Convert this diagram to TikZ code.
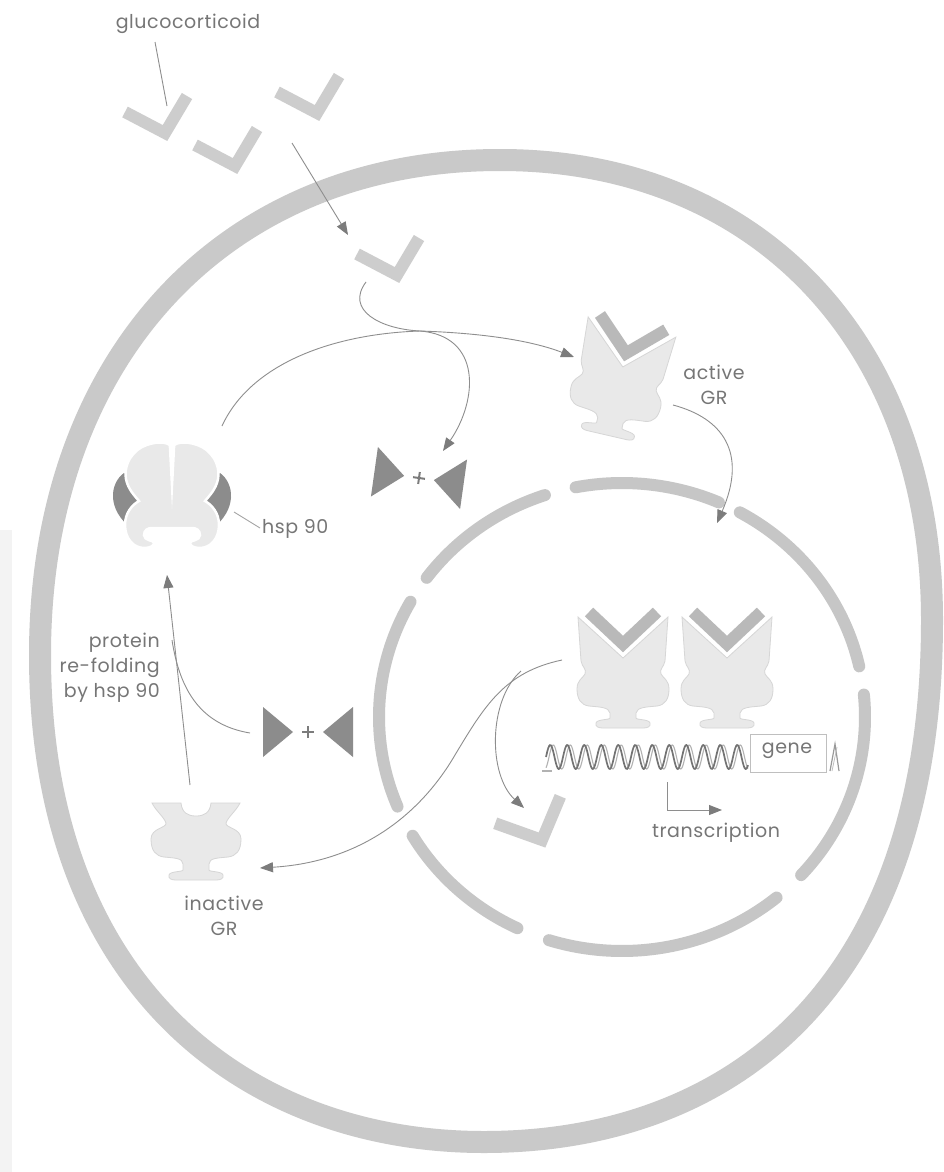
\documentclass[tikz,border=0pt]{standalone}
\usepackage{fontspec}
\setmainfont{Poppins}
\newfontfamily\labelfont{Poppins}[LetterSpace=3]
\usetikzlibrary{arrows.meta}

\definecolor{cellring}{HTML}{C9C9C9}
\definecolor{nucring}{HTML}{C6C6C6}
\definecolor{hormone}{HTML}{CDCDCD}
\definecolor{boundhormone}{HTML}{B9B9B9}
\definecolor{protfill}{HTML}{E9E9E9}
\definecolor{protedge}{HTML}{D6D6D6}
\definecolor{darkpart}{HTML}{8C8C8C}
\definecolor{wire}{HTML}{8E8E8E}
\definecolor{tip}{HTML}{7C7C7C}
\definecolor{txt}{HTML}{767676}
\definecolor{scanedge}{HTML}{F3F3F3}

\tikzset{
  lbl/.style={text=txt, font=\labelfont\fontsize{19}{25}\selectfont, inner sep=0pt},
  conn/.style={draw=wire, line width=0.9},
  arr/.style={conn, -{Triangle[length=13, width=10, fill=tip, color=tip]}},
  ringseg/.style={draw=nucring, line width=12, line cap=round},
  % free steroid molecule
  hormonepic/.pic={
    \draw[hormone, line width=12, line cap=butt, line join=miter]
      (-40,-21) -- (0,0) -- (22,-37);
  },
  % receptor with bound hormone
  activegr/.pic={
    \fill[protfill, draw=protedge, line width=0.8]
      (-45,0) -- (0,41) -- (45,0) -- (42,44)
      .. controls (41,50) and (36,52) .. (38,57)
      .. controls (40,61) and (46,63) .. (46,72)
      .. controls (46,82) and (42,88) .. (34,89)
      .. controls (24,90) and (14,90) .. (13,96)
      -- (13,101)
      .. controls (13,103) and (26,102) .. (27,106)
      .. controls (28,110) and (24,111) .. (20,111)
      -- (-20,111)
      .. controls (-24,111) and (-28,110) .. (-27,106)
      .. controls (-26,102) and (-13,103) .. (-13,101)
      -- (-13,96)
      .. controls (-14,90) and (-24,90) .. (-34,89)
      .. controls (-42,88) and (-46,82) .. (-46,72)
      .. controls (-46,63) and (-40,61) .. (-38,57)
      .. controls (-36,52) and (-41,50) .. (-42,44)
      -- cycle;
    \draw[white, line width=18, line cap=butt, line join=miter]
      (-34,-5) -- (0,27) -- (34,-5);
    \draw[boundhormone, line width=12, line cap=butt, line join=miter]
      (-34,-5) -- (0,27) -- (34,-5);
  },
  % receptor without hormone
  inactivegr/.pic={
    \fill[protfill, draw=protedge, line width=0.8]
      (-44,0) -- (-15,0)
      .. controls (-14,10) and (-8,13) .. (0,13)
      .. controls (8,13) and (14,10) .. (15,0)
      -- (44,0)
      .. controls (40,8) and (32,14) .. (30,20)
      .. controls (29,25) and (45,25) .. (45,36)
      .. controls (45,48) and (40,53) .. (32,54)
      .. controls (22,55) and (13,55) .. (13,61)
      -- (13,67)
      .. controls (13,69) and (26,68) .. (27,72)
      .. controls (28,76) and (24,77) .. (20,77)
      -- (-20,77)
      .. controls (-24,77) and (-28,76) .. (-27,72)
      .. controls (-26,68) and (-13,69) .. (-13,67)
      -- (-13,61)
      .. controls (-13,55) and (-22,55) .. (-32,54)
      .. controls (-40,53) and (-45,48) .. (-45,36)
      .. controls (-45,25) and (-29,25) .. (-30,20)
      .. controls (-32,14) and (-40,8) .. (-44,0)
      -- cycle;
  },
  hsppic/.pic={
    % chaperone side pieces
    \fill[darkpart] (-48,-22) .. controls (-62,-12) and (-66,14) .. (-40,34)
      .. controls (-34,24) and (-30,12) .. (-30,6)
      .. controls (-32,-4) and (-38,-14) .. (-48,-22) -- cycle;
    \fill[darkpart] (48,-22) .. controls (62,-12) and (66,14) .. (40,34)
      .. controls (34,24) and (30,12) .. (30,6)
      .. controls (32,-4) and (38,-14) .. (48,-22) -- cycle;
    % folded receptor held by the chaperone
    \filldraw[fill=protfill, draw=white, line width=2.5]
      (0,-48)
      .. controls (4,-54) and (18,-54) .. (30,-48)
      .. controls (44,-40) and (48,-26) .. (46,-16)
      .. controls (44,-6) and (38,0) .. (33,6)
      .. controls (40,10) and (47,18) .. (47,30)
      .. controls (47,44) and (38,53) .. (28,53)
      .. controls (22,53) and (18,51) .. (18,48)
      .. controls (18,45) and (28,46) .. (28,40)
      .. controls (28,35) and (24,33) .. (20,33)
      -- (-20,33)
      .. controls (-24,33) and (-28,35) .. (-28,40)
      .. controls (-28,46) and (-18,45) .. (-18,48)
      .. controls (-18,51) and (-22,53) .. (-28,53)
      .. controls (-38,53) and (-47,44) .. (-47,30)
      .. controls (-47,18) and (-40,10) .. (-33,6)
      .. controls (-38,0) and (-44,-6) .. (-46,-16)
      .. controls (-48,-26) and (-44,-40) .. (-30,-48)
      .. controls (-18,-54) and (-4,-54) .. (0,-48)
      -- cycle;
    \fill[white] (-3.5,-52) -- (3.5,-52) -- (0,14) -- cycle;
  },
  % pair of released chaperone pieces
  pairpic/.pic={
    \fill[darkpart] (-45,-25) -- (-45,25) -- (-15,0) -- cycle;
    \fill[darkpart] (45,-25) -- (45,25) -- (15,0) -- cycle;
    \draw[tip, line width=2] (-6,0) -- (6,0) (0,-6) -- (0,6);
  }
}

\begin{document}
\begin{tikzpicture}[x=1pt, y=-1pt]
\useasboundingbox (0,0) rectangle (943,1172);
\fill[white] (0,0) rectangle (943,1172);
\fill[scanedge] (0,530) rectangle (12,1172);

% cell membrane: four quarter curves
\draw[cellring, line width=22]
  (40,655) .. controls (40,358) and (224,160) .. (500,160)
           .. controls (759,160) and (932,344) .. (932,620)
           .. controls (932,1000) and (720,1142) .. (484,1142)
           .. controls (250,1142) and (40,990) .. (40,655) -- cycle;

% nuclear envelope with pores
\begin{scope}[shift={(622,717)}]
  \foreach \a/\b in {108.5/143.5, 150.5/202.5, 210.5/244.5, 252.5/309.5,
                     317.5/365.5, 12.5/61, 66.5/101}
    \draw[ringseg] (-\a:243 and 234) arc[start angle=-\a, end angle=-\b,
                                           x radius=243, y radius=234];
\end{scope}

% glucocorticoid molecules outside and inside the cell
\pic at (165,133) {hormonepic};
\pic at (235,166) {hormonepic};
\pic at (317,113) {hormonepic};
\pic at (397,275) {hormonepic};
\pic[rotate=8, scale=1.1] at (542,840) {hormonepic};

% receptors
\pic[rotate=-13] at (632,327) {activegr};
\pic at (623,617) {activegr};
\pic at (727,617) {activegr};
\pic at (196,803) {inactivegr};
\pic at (172,495) {hsppic};

% released chaperone pieces
\pic[rotate=-8] at (419,478) {pairpic};
\pic at (308,732) {pairpic};

% DNA and gene
\draw[line width=1.1, draw=black!30]
  plot[domain=546:748, samples=260] (\x, {757 - 12*sin((\x-549)/17*360)});
\draw[line width=1.7, draw=black!55]
  plot[domain=546:748, samples=260] (\x, {757 - 12*sin((\x-546)/17*360)});
\draw[line width=1.1, draw=black!30] (542,771) -- (552,771);
\node[draw=black!25, line width=0.8, fill=white, minimum width=76, minimum height=38,
      inner sep=0, anchor=west] (genebox) at (750,753) {};
\node[lbl] (gene) at (787,751) {gene};
\draw[line width=1.2, draw=black!40] (830,771) -- (835,744) -- (839,771);
\draw[line width=0.8, draw=black!25] (832,771) -- (837,747);

% transcription start
\coordinate (tss) at (667,782);
\coordinate (tssend) at (722,810);
\draw[arr] (tss) |- (tssend);

% labels
\node[lbl] (gluco) at (188,24) {glucocorticoid};
\node[lbl, align=center] (activelbl) at (714,385) {active\\GR};
\node[lbl, anchor=west] (hsplbl) at (262,529) {hsp 90};
\node[lbl, align=right, anchor=east] (refold) at (160,668) {protein\\re-folding\\by hsp 90};
\node[lbl, align=center] (inactivelbl) at (224,916) {inactive\\GR};
\node[lbl] (transc) at (716,833) {transcription};

% connector end points
\coordinate (glucoline) at (155,42);
\coordinate (hormA) at (167,106);
\coordinate (hormC) at (292,143);
\coordinate (entry) at (348,235);
\coordinate (hormD) at (366,282);
\coordinate (merge) at (420,331);
\coordinate (activeIn) at (574,357);
\coordinate (pairA) at (443,451);
\coordinate (hspTop) at (222,426);
\coordinate (activeOut) at (673,405);
\coordinate (nucIn) at (717,523);
\coordinate (dimerOut) at (562,660);
\coordinate (split) at (521,671);
\coordinate (hormOut) at (524,808);
\coordinate (inactiveIn) at (260,868);
\coordinate (pairB) at (250,733);
\coordinate (joinB) at (172,640);
\coordinate (inactiveTop) at (190,785);
\coordinate (hspIn) at (167,575);
\coordinate (hspLbl) at (260,528);
\coordinate (hspEdge) at (234,512);

% connectors
\draw[conn] (glucoline) -- (hormA);
\draw[arr] (hormC) -- (entry);
\draw[conn] (hormD) .. controls (345,310) and (380,329) .. (merge);
\draw[conn] (hspTop) .. controls (250,365) and (330,334) .. (merge);
\draw[arr] (merge) .. controls (480,333) and (530,340) .. (activeIn);
\draw[arr] (merge) .. controls (482,336) and (478,400) .. (pairA);
\draw[arr] (activeOut) .. controls (722,418) and (748,452) .. (nucIn);
\draw[arr] (dimerOut) .. controls (505,672) and (485,705) .. (455,755)
  .. controls (420,815) and (360,862) .. (inactiveIn);
\draw[arr] (split) .. controls (488,700) and (488,775) .. (hormOut);
\draw[conn] (pairB) .. controls (202,725) and (180,692) .. (joinB);
\draw[arr] (inactiveTop) -- (hspIn);
\draw[conn, draw=black!35] (hspEdge) -- (hspLbl);

\end{tikzpicture}
\end{document}
